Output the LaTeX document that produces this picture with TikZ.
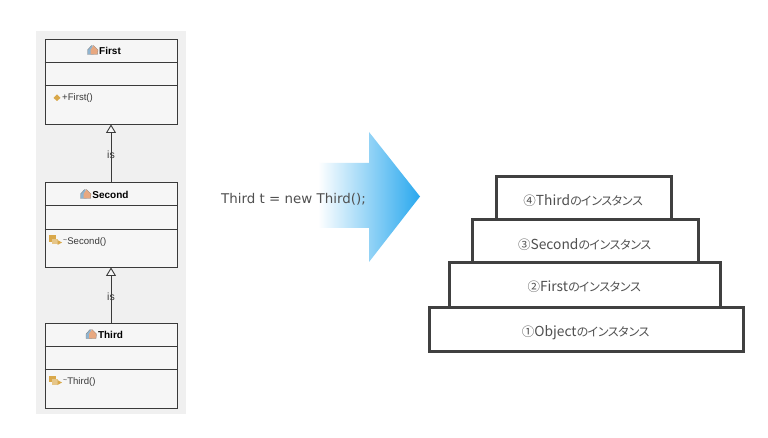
\documentclass[tikz,border=0pt]{standalone}
\usepackage{fontspec}
\setmainfont{Noto Sans CJK JP}
\newfontfamily\codefont{DejaVu Sans}
\newfontfamily\umlfont{Liberation Sans}
\newfontfamily\kanafont[LetterSpace=-14]{Noto Sans CJK JP}
\usetikzlibrary{arrows.meta}
\definecolor{panelgray}{HTML}{F0F0F0}
\definecolor{boxfill}{HTML}{F6F6F6}
\definecolor{umlline}{HTML}{3A3A3A}
\definecolor{stackline}{HTML}{404040}
\definecolor{stacktext}{HTML}{505050}
\definecolor{arrowblue}{HTML}{29A8EE}
\definecolor{iconorange}{HTML}{E8A880}
\definecolor{iconblue}{HTML}{8FB4D0}
\definecolor{icongold}{HTML}{D9A84A}
\tikzset{
  x=1pt,y=-1pt,
  classbox/.style={draw=umlline,line width=0.9pt,fill=boxfill,rectangle,inner sep=0pt,minimum width=132pt},
  inherit/.style={draw=umlline,line width=0.9pt,-{Triangle[open,fill=boxfill,length=8.5pt,width=10pt]}},
  stackbox/.style={draw=stackline,line width=3pt,fill=white,rectangle,inner sep=0pt,text=stacktext,font=\fontsize{13.8}{16}\selectfont},
  classname/.style={font=\umlfont\bfseries\fontsize{10}{12}\selectfont,text=black,inner sep=0pt},
  member/.style={font=\umlfont\fontsize{9.6}{11}\selectfont,text=umlline,inner sep=0pt,anchor=west},
  islabel/.style={font=\umlfont\fontsize{10.5}{12}\selectfont,text=umlline,inner sep=0pt,yshift=-2pt},
}
\newcommand{\kn}{{\kanafont\fontsize{12}{14}\selectfont のインスタンス}}
\newcommand{\cn}[1]{{\fontsize{12.5}{14}\selectfont #1}}
\newcommand{\dropped}[2]{\raisebox{-#1pt}[0pt][0pt]{#2}}
\newcommand{\rtilde}{\raisebox{2.2pt}{\fontsize{7}{8}\selectfont\textasciitilde}}
\newcommand{\classicon}[2]{%
  \fill[iconblue] (#1-5,#2+4.5) -- (#1-5,#2) -- (#1-1,#2-4.5) -- (#1+2,#2-2) -- (#1+1,#2+4.5) -- cycle;
  \fill[iconorange] (#1-2,#2+4.5) -- (#1-2,#2) -- (#1+1,#2-4.5) -- (#1+5.5,#2) -- (#1+5,#2+4.5) -- cycle;
  \draw[gray,line width=0.3pt] (#1-5,#2+4.5) -- (#1-5,#2) -- (#1-1,#2-4.5) -- (#1+1,#2-4.5) -- (#1+5.5,#2) -- (#1+5,#2+4.5) -- cycle;
}
\newcommand{\methodicon}[2]{%
  \fill[icongold] (#1-5,#2-5.5) rectangle (#1+1.5,#2+1);
  \fill[icongold!65!white] (#1-2,#2-2) rectangle (#1+3.5,#2+3.5);
  \fill[icongold] (#1+3.5,#2+4) -- (#1+8,#2+1.5) -- (#1+3.5,#2-1) -- cycle;
}
\begin{document}
\begin{tikzpicture}
\useasboundingbox (0,0) rectangle (768,438);
\fill[white] (0,0) rectangle (768,438);
\fill[panelgray] (36,31) rectangle (186,414);

% class boxes
\node[classbox,minimum height=85pt] (first) at (111,81.5) {};
\node[classbox,minimum height=85pt] (second) at (111,224.5) {};
\node[classbox,minimum height=85pt] (third) at (111,365.5) {};
\foreach \n/\a/\b in {first/62/85,second/205/229,third/346/369}{
  \draw[draw=umlline,line width=0.9pt] (\n.west |- 0,\a) -- (\n.east |- 0,\a);
  \draw[draw=umlline,line width=0.9pt] (\n.west |- 0,\b) -- (\n.east |- 0,\b);
}
\node[classname] (firstname) at (110,50.5) {First};
\node[classname] (secondname) at (110.5,194.5) {Second};
\node[classname] (thirdname) at (110.5,335) {Third};
\classicon{92.5}{50}
\classicon{85.5}{194}
\classicon{91}{334}
\node[member] (firstm) at (62,98.5) {+First()};
\node[member] (secondm) at (63,242) {\rtilde Second()};
\node[member] (thirdm) at (63,382.5) {\rtilde Third()};
\fill[icongold] (57,94.5) -- (60.5,98) -- (57,101) -- (53.5,98) -- cycle;
\methodicon{54}{241}
\methodicon{54}{381}

% inheritance
\draw[inherit] (second.north) -- node[islabel] (is1) {is} (first.south);
\draw[inherit] (third.north) -- node[islabel] (is2) {is} (second.south);

% big arrow
\shade[left color=white,right color=arrowblue,shading=axis,shading angle=90]
  (318,163) -- (369,163) -- (369,132) -- (420,196.5) -- (369,262) -- (369,228) -- (318,228) -- cycle;
\node[font=\codefont\fontsize{13.4}{16}\selectfont,text=stacktext,inner sep=0pt,anchor=west] (code) at (221,199) {Third t = new Third();};

% stack
\node[stackbox,minimum width=175pt,minimum height=43pt] (s4) at (583.5,198.5) {\dropped{6.7}{\cn{④}Third\kn}};
\node[stackbox,minimum width=226pt,minimum height=43pt] (s3) at (585,241.5) {\dropped{7.7}{\cn{③}Second\kn}};
\node[stackbox,minimum width=271pt,minimum height=44pt] (s2) at (584.5,285) {\dropped{6.7}{\cn{②}First\kn}};
\node[stackbox,minimum width=314pt,minimum height=44pt] (s1) at (586,329) {\dropped{7.4}{\cn{①}Object\kn}};
\end{tikzpicture}
\end{document}
